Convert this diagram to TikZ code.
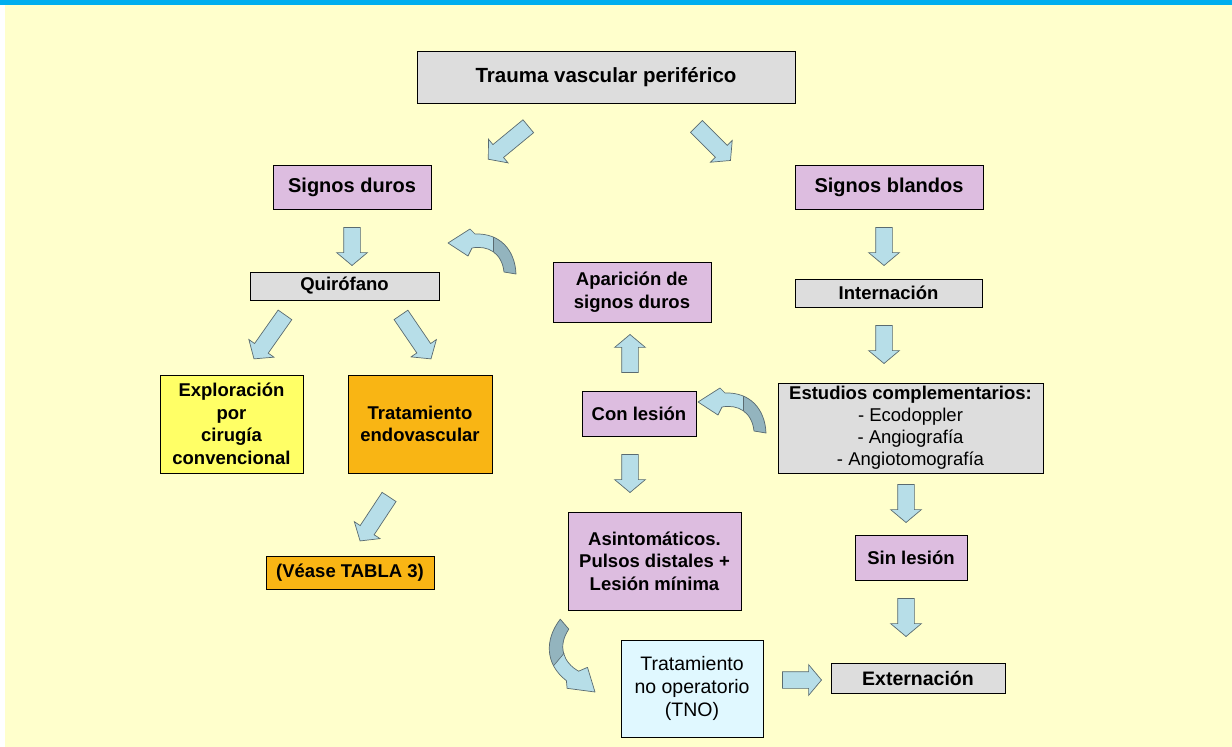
\documentclass[tikz,border=0pt]{standalone}
\usepackage{fontspec}
\setmainfont{Liberation Sans}
\usetikzlibrary{shapes.arrows,calc}
\definecolor{bgy}{HTML}{FFFFCC}
\definecolor{topbar}{HTML}{00AEEF}
\definecolor{boxgray}{HTML}{DDDDDD}
\definecolor{lilac}{HTML}{DDBDE0}
\definecolor{yel}{HTML}{FFFF66}
\definecolor{orng}{HTML}{F9B514}
\definecolor{tnocol}{HTML}{E0F8FF}
\definecolor{arrfill}{HTML}{B7DEE8}
\definecolor{arrdark}{HTML}{93B4BE}
\definecolor{arrline}{HTML}{5A6B70}
\tikzset{
  box/.style={draw=black, line width=0.8pt, align=center, inner sep=0pt, text=black,
    font=\bfseries\fontsize{18.5}{22.5}\selectfont},
  barrow/.style={single arrow, draw=arrline, fill=arrfill, line width=0.7pt,
    inner xsep=0pt, inner ysep=8pt, single arrow head extend=7pt,
    single arrow tip angle=100, anchor=center},
}
\newcommand\blockarr[3]{%
  \path let \p1=($(#3)-(#2)$), \n1={atan2(\y1,\x1)}, \n2={veclen(\x1,\y1)} in
    ($(#2)!0.5!(#3)$) node[barrow, rotate=\n1, minimum height=\n2] (#1) {};}
\newcommand\curvpath{(68,31) .. controls (67,7) and (52,-10) .. (27,-9) -- (22,-14) -- (0,0) -- (20,13) -- (24,5) .. controls (40,2) and (54,10) .. (56,29) -- cycle}
\newcommand\curvshape{%
  \fill[arrfill] \curvpath;
  \begin{scope}
    \clip (45,-30) rectangle (90,45);
    \fill[arrdark] \curvpath;
  \end{scope}
  \draw[arrline, line width=0.6pt] (45,-6.3) -- (45,9.2);
  \draw[arrline, line width=0.7pt, line join=round] \curvpath;
}
\begin{document}
\begin{tikzpicture}[x=1pt,y=-1pt]
\useasboundingbox (0,0) rectangle (1232,747);
\fill[white] (0,0) rectangle (1232,747);
\fill[bgy] (5,5) rectangle (1232,747);
\fill[topbar] (0,0) rectangle (1232,5);

% boxes
\node[box, fill=boxgray, minimum width=378pt, minimum height=52pt, font=\bfseries\fontsize{20.5}{24}\selectfont] (tvp) at (606,77) {Trauma vascular periférico};
\node[box, fill=lilac, minimum width=158pt, minimum height=44pt, font=\bfseries\fontsize{20}{24}\selectfont] (sd) at (352,187) {Signos duros};
\node[box, fill=lilac, minimum width=188pt, minimum height=44pt, font=\bfseries\fontsize{20}{24}\selectfont] (sb) at (889,187) {Signos blandos};
\node[box, fill=boxgray, minimum width=189pt, minimum height=28pt] (qf) at (344.5,286) {Quirófano};
\node[box, fill=lilac, minimum width=158pt, minimum height=60pt] (ap) at (632,292) {Aparición de\\signos duros};
\node[box, fill=boxgray, minimum width=187pt, minimum height=28pt] (in) at (888.5,293) {Internación};
\node[box, fill=yel, minimum width=143pt, minimum height=98pt] (ex) at (231.5,424) {Exploración\\por\\cirugía\\convencional};
\node[box, fill=orng, minimum width=144pt, minimum height=98pt] (te) at (420,424) {Tratamiento\\endovascular};
\node[box, fill=lilac, minimum width=114pt, minimum height=45pt] (cl) at (639,413.5) {Con lesión};
\node[box, fill=boxgray, minimum width=265pt, minimum height=90pt, font=\fontsize{18.5}{22}\selectfont] (es) at (910.5,428) {\textbf{Estudios complementarios:}\\- Ecodoppler\\- Angiografía\\- Angiotomografía};
\node[box, fill=orng, minimum width=168pt, minimum height=33pt] (vt) at (350,572.5) {(Véase TABLA 3)};
\node[box, fill=lilac, minimum width=173pt, minimum height=98pt] (as) at (654.5,561) {Asintomáticos.\\Pulsos distales +\\Lesión mínima};
\node[box, fill=lilac, minimum width=112pt, minimum height=45pt] (sl) at (911,557.5) {Sin lesión};
\node[box, fill=tnocol, minimum width=142pt, minimum height=97pt, font=\fontsize{19.5}{23}\selectfont] (tno) at (692,688.5) {Tratamiento\\no operatorio\\(TNO)};
\node[box, fill=boxgray, minimum width=174pt, minimum height=30pt, font=\bfseries\fontsize{19.5}{23}\selectfont] (ext) at (918,678) {Externación};

% block arrow end points
\coordinate (a1t) at (531,124); \coordinate (a1h) at (491,157);
\coordinate (a2t) at (694,124); \coordinate (a2h) at (728,158);
\coordinate (a3t) at (352,224); \coordinate (a3h) at (352,262);
\coordinate (a4t) at (287,312); \coordinate (a4h) at (256,356);
\coordinate (a5t) at (399,312); \coordinate (a5h) at (429,356);
\coordinate (a6t) at (884,224); \coordinate (a6h) at (884,262);
\coordinate (a7t) at (884,322); \coordinate (a7h) at (884,360);
\coordinate (a8t) at (630,376); \coordinate (a8h) at (630,338);
\coordinate (a9t) at (630,451); \coordinate (a9h) at (630,489);
\coordinate (a10t) at (391,494); \coordinate (a10h) at (362,538);
\coordinate (a11t) at (906,481); \coordinate (a11h) at (906,519);
\coordinate (a12t) at (906,595); \coordinate (a12h) at (906,633);
\coordinate (a13t) at (779,680); \coordinate (a13h) at (818,680);

\blockarr{ar1}{a1t}{a1h}
\blockarr{ar2}{a2t}{a2h}
\blockarr{ar3}{a3t}{a3h}
\blockarr{ar4}{a4t}{a4h}
\blockarr{ar5}{a5t}{a5h}
\blockarr{ar6}{a6t}{a6h}
\blockarr{ar7}{a7t}{a7h}
\blockarr{ar8}{a8t}{a8h}
\blockarr{ar9}{a9t}{a9h}
\blockarr{ar10}{a10t}{a10h}
\blockarr{ar11}{a11t}{a11h}
\blockarr{ar12}{a12t}{a12h}
\blockarr{ar13}{a13t}{a13h}

% curved arrows
\begin{scope}[shift={(448,243)}]
  \curvshape
\end{scope}
\begin{scope}[shift={(698,402)}]
  \curvshape
\end{scope}
\begin{scope}[shift={(595,692)}, rotate=140, scale=1.08]
  \curvshape
\end{scope}
\end{tikzpicture}
\end{document}
